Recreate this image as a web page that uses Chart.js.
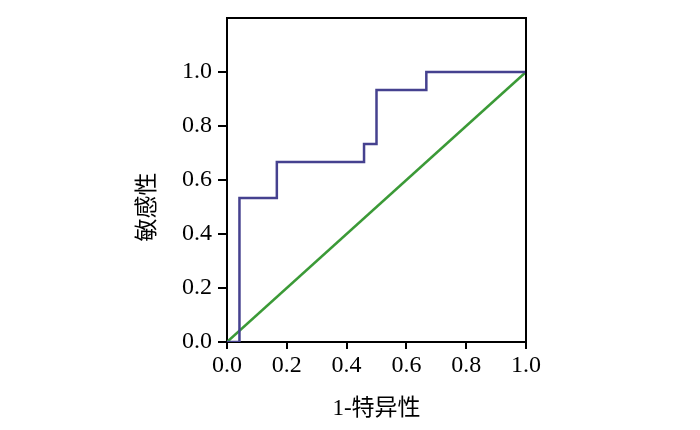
<!DOCTYPE html>
<html><head><meta charset="utf-8">
<script src="https://cdn.jsdelivr.net/npm/chart.js@4/dist/chart.umd.min.js"></script>
<style>html,body{margin:0;padding:0;background:#fff}#c{display:block}</style>
</head><body>
<canvas id="c" width="700" height="430"></canvas>
<script>
const fpr = [0, 1/24, 1/24, 4/24, 4/24, 11/24, 11/24, 12/24, 12/24, 16/24, 16/24, 1];
const tpr = [0, 0, 8/15, 8/15, 10/15, 10/15, 11/15, 11/15, 14/15, 14/15, 1, 1];
const refX = [0, 1];
const refY = [0, 1];
const tickVals = [0, 0.2, 0.4, 0.6, 0.8, 1.0];
const xTitle = '1-特异性';
const yTitle = '敏感性';

const font = '"Liberation Serif", "Noto Sans CJK SC", serif';
const titleFont = '23px "Liberation Serif", "Noto Sans CJK SC", serif';
const boxPlugin = {
  id: 'box',
  afterDatasetsDraw(chart) {
    const {ctx, chartArea: a, scales} = chart;
    ctx.save();
    ctx.strokeStyle = '#000';
    ctx.lineWidth = 2;
    ctx.beginPath();
    ctx.moveTo(a.left, a.top);
    ctx.lineTo(a.right, a.top);
    ctx.lineTo(a.right, a.bottom);
    ctx.stroke();
    ctx.fillStyle = '#000';
    ctx.font = titleFont;
    ctx.textAlign = 'center';
    ctx.textBaseline = 'middle';
    ctx.fillText(xTitle, (a.left + a.right) / 2, 409);
    const yc = (scales.y.getPixelForValue(0) + scales.y.getPixelForValue(1)) / 2;
    ctx.translate(148, yc);
    ctx.rotate(-Math.PI / 2);
    ctx.fillText(yTitle, 0, 0);
    ctx.restore();
  }
};
new Chart(document.getElementById('c'), {
  type: 'scatter',
  data: {
    datasets: [
      {data: fpr.map((x, i) => ({x, y: tpr[i]})), showLine: true, borderColor: '#45418f', borderWidth: 2.5, pointRadius: 0, tension: 0},
      {data: refX.map((x, i) => ({x, y: refY[i]})), showLine: true, borderColor: '#3b9a37', borderWidth: 2.5, pointRadius: 0, tension: 0}
    ]
  },
  options: {
    responsive: false, animation: false, devicePixelRatio: 1,
    layout: {padding: {left: 130, right: 174, top: 18, bottom: 0}},
    plugins: {legend: {display: false}, tooltip: {enabled: false}},
    scales: {
      x: {
        type: 'linear', min: 0, max: 1,
        afterFit(s) { s.height = 88; s.paddingLeft = 0; s.paddingRight = 0; },
        afterBuildTicks(s) { s.ticks = tickVals.map(v => ({value: v})); },
        grid: {drawOnChartArea: false, tickLength: 7, color: '#000', lineWidth: 2},
        border: {color: '#000', width: 2},
        ticks: {color: '#000', font: {family: font, size: 24}, padding: 2, callback: v => v.toFixed(1), maxRotation: 0},
        title: {display: false}
      },
      y: {
        type: 'linear', min: 0, max: 1.2,
        afterFit(s) { s.width = 97; s.paddingTop = 0; s.paddingBottom = 0; },
        afterBuildTicks(s) { s.ticks = tickVals.map(v => ({value: v})); },
        grid: {drawOnChartArea: false, tickLength: 9, color: '#000', lineWidth: 2},
        border: {color: '#000', width: 2},
        ticks: {color: '#000', font: {family: font, size: 24}, padding: 6, callback: v => v.toFixed(1)},
        title: {display: false}
      }
    }
  },
  plugins: [boxPlugin]
});
</script>
</body></html>
